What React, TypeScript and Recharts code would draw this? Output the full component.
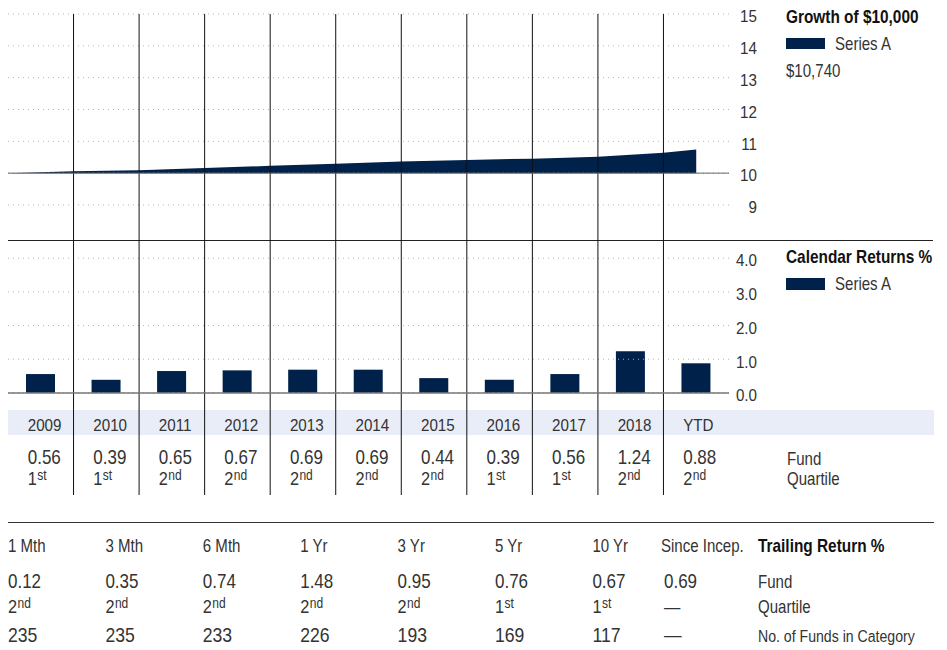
import React from 'react';
import { ComposedChart, BarChart, Area, Bar, XAxis, YAxis, ReferenceLine, LabelList } from 'recharts';

const FONT = '"Liberation Sans",Arial,sans-serif';
const NAVY = '#00214a';
const TEXT = '#333333';

// ---- data ----
const calendarYears = ['2009', '2010', '2011', '2012', '2013', '2014', '2015', '2016', '2017', '2018', 'YTD'];
const calendarReturns = [0.56, 0.39, 0.65, 0.67, 0.69, 0.69, 0.44, 0.39, 0.56, 1.24, 0.88];
const calendarQuartiles = ['1st', '1st', '2nd', '2nd', '2nd', '2nd', '2nd', '1st', '1st', '2nd', '2nd'];

const growthTime = [0, 1, 2, 3, 4, 5, 6, 7, 8, 9, 10, 10.5];
const growthValues = [10.0, 10.056, 10.095, 10.161, 10.229, 10.299, 10.37, 10.416, 10.456, 10.514, 10.644, 10.74];
const growthTicks = [9, 10, 11, 12, 13, 14, 15];
const returnTicks = [0, 1, 2, 3, 4];

const trailingPeriods = ['1 Mth', '3 Mth', '6 Mth', '1 Yr', '3 Yr', '5 Yr', '10 Yr', 'Since Incep.'];
const trailingFund = ['0.12', '0.35', '0.74', '1.48', '0.95', '0.76', '0.67', '0.69'];
const trailingQuartile = ['2nd', '2nd', '2nd', '2nd', '2nd', '1st', '1st', '—'];
const trailingCount = ['235', '235', '233', '226', '193', '169', '117', '—'];

// ---- layout ----
const W = 947;
const PLOT_LEFT = 8;
const PLOT_RIGHT = 729;
const AXIS_W = W - PLOT_RIGHT;
const BAND = (PLOT_RIGHT - PLOT_LEFT) / calendarYears.length;

const growthData = growthTime.map((t, i) => ({ t, v: growthValues[i] }));
const calData = calendarYears.map((year, i) => ({ year, ret: calendarReturns[i] }));
const yearBoundaries = growthTime.filter((t) => t > 0 && t <= 10 && Number.isInteger(t));

const T = ({ x, y, size, sx = 0.86, bold = false, anchor = 'start', fill = TEXT, children }: any) => (
  <text
    transform={`translate(${x},${y}) scale(${sx},1)`}
    textAnchor={anchor}
    fontFamily={FONT}
    fontSize={size}
    fontWeight={bold ? 'bold' : 'normal'}
    fill={fill}
  >
    {children}
  </text>
);

const Quart = ({ x, y, q, size, sx = 0.86 }: any) => {
  const m = q.match(/^(\d)(\D+)$/);
  if (!m) {
    return <T x={x} y={y} size={size} sx={sx}>{q}</T>;
  }
  return (
    <T x={x} y={y} size={size} sx={sx}>
      {m[1]}
      <tspan dy={-5.5} dx={0.5} fontSize={14}>{m[2]}</tspan>
    </T>
  );
};

const RightTick = (props: any) => {
  const { y, payload, digits } = props;
  const v = digits ? Number(payload.value).toFixed(digits) : String(payload.value);
  return <T x={757} y={y + 8.3} size={16.5} sx={0.92} anchor="end">{v}</T>;
};

const TableCell = (props: any) => {
  const { x, width, value } = props;
  const i = calendarYears.indexOf(String(value));
  if (i < 0) return null;
  const left = Number(x) + Number(width) / 2 - BAND / 2 + 20;
  return (
    <g>
      <T x={left} y={430.5} size={16.5} sx={0.92}>{calendarYears[i]}</T>
      <T x={left} y={464} size={20} sx={0.85}>{calendarReturns[i].toFixed(2)}</T>
      <Quart x={left} y={485} q={calendarQuartiles[i]} size={19} sx={0.86} />
    </g>
  );
};

const Background = () => {
  const tx = (i: number) => (i < 7 ? 8 + i * 97.4 : 661);
  const vx = (i: number) => (i < 7 ? 8 + i * 97.4 : 664);
  return (
    <svg width={W} height={650} style={{ position: 'absolute', left: 0, top: 0 }}>
      <rect x={8} y={410} width={926} height={25} fill="#e9edf7" />
      <line x1={8} x2={933} y1={240.5} y2={240.5} stroke="#222" strokeWidth={1} />
      <line x1={8} x2={934} y1={522.5} y2={522.5} stroke="#333" strokeWidth={1} />

      {/* growth legend */}
      <T x={786} y={23} size={17.5} sx={0.88} bold fill="#111">Growth of $10,000</T>
      <rect x={786} y={38} width={39} height={11} fill={NAVY} />
      <T x={835} y={50} size={17.5} sx={0.86}>Series A</T>
      <T x={786} y={77} size={17.5} sx={0.86}>$10,740</T>

      {/* calendar legend */}
      <T x={786} y={263} size={17.5} sx={0.88} bold fill="#111">Calendar Returns %</T>
      <rect x={786} y={278} width={39} height={12} fill={NAVY} />
      <T x={835} y={290} size={17.5} sx={0.86}>Series A</T>

      <T x={787} y={465} size={17.5} sx={0.86}>Fund</T>
      <T x={787} y={485} size={17.5} sx={0.86}>Quartile</T>

      {/* trailing returns */}
      {trailingPeriods.map((p, i) => (
        <g key={p}>
          <T x={tx(i)} y={552} size={17.5} sx={0.86}>{p}</T>
          <T x={vx(i)} y={588} size={20} sx={0.85}>{trailingFund[i]}</T>
          <Quart x={vx(i)} y={613} q={trailingQuartile[i]} size={19} sx={0.86} />
          <T x={vx(i)} y={641.5} size={20} sx={0.88}>{trailingCount[i]}</T>
        </g>
      ))}
      <T x={758} y={552} size={17.5} sx={0.88} bold fill="#111">Trailing Return %</T>
      <T x={758} y={588} size={17.5} sx={0.86}>Fund</T>
      <T x={758} y={613} size={17.5} sx={0.86}>Quartile</T>
      <T x={758} y={641.5} size={17} sx={0.83}>No. of Funds in Category</T>
    </svg>
  );
};

export default function App() {
  return (
    <div style={{ position: 'absolute', left: 0, top: 0, width: W, height: 650, background: '#fff', overflow: 'hidden' }}>
      <Background />
      <div style={{ position: 'absolute', left: 0, top: 0 }}>
        <ComposedChart width={W} height={240} data={growthData} margin={{ top: 14, right: 0, bottom: 0, left: PLOT_LEFT }}>
          <XAxis type="number" dataKey="t" domain={[0, 11]} hide />
          <YAxis
            orientation="right"
            type="number"
            domain={[7.9, 15]}
            ticks={growthTicks}
            interval={0}
            width={AXIS_W}
            axisLine={false}
            tickLine={false}
            tick={<RightTick />}
          />
          {growthTicks.map((v) => (
            <ReferenceLine key={'g' + v} y={v} stroke="#b3b3b3" strokeDasharray="1 4" />
          ))}
          <Area
            type="linear"
            dataKey="v"
            baseValue={10}
            fill={NAVY}
            fillOpacity={1}
            stroke="none"
            isAnimationActive={false}
          />
          {yearBoundaries.map((t) => (
            <ReferenceLine key={t} x={t} stroke="#111" strokeWidth={1} />
          ))}
          <ReferenceLine y={10} stroke="#666" strokeWidth={1} />
        </ComposedChart>
      </div>
      <div style={{ position: 'absolute', left: 0, top: 0 }}>
        <BarChart width={W} height={495} data={calData} margin={{ top: 240, right: 0, bottom: 0, left: PLOT_LEFT }}>
          <XAxis dataKey="year" type="category" hide />
          <YAxis
            orientation="right"
            type="number"
            domain={[-3.03, 4.54]}
            ticks={returnTicks}
            interval={0}
            width={AXIS_W}
            axisLine={false}
            tickLine={false}
            tick={<RightTick digits={1} />}
          />
          {returnTicks.map((v) => (
            <ReferenceLine key={'r' + v} y={v} stroke="#b3b3b3" strokeDasharray="1 4" />
          ))}
          {calendarYears.slice(1).map((y) => (
            <ReferenceLine key={y} x={y} position="start" stroke="#111" strokeWidth={1} />
          ))}
          <ReferenceLine y={0} stroke="#777" strokeWidth={1.5} />
          <Bar dataKey="ret" fill={NAVY} barSize={29} isAnimationActive={false}>
            <LabelList dataKey="year" content={(p: any) => <TableCell {...p} />} />
          </Bar>
        </BarChart>
      </div>
    </div>
  );
}
